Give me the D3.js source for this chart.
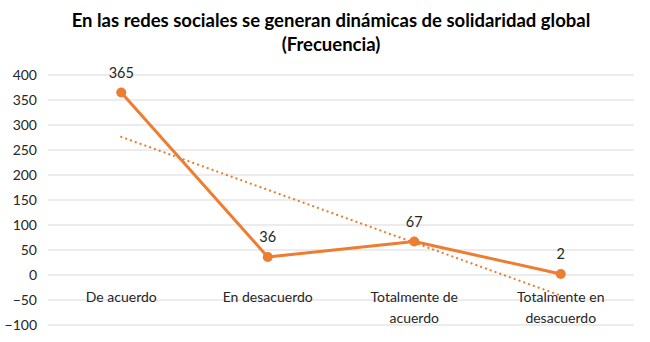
<!DOCTYPE html>
<html>
<head>
<meta charset="utf-8">
<style>
  body { margin: 0; background: #fff; }
  text { font-family: Lato, "Open Sans", sans-serif; }
  .grid line { stroke: #d9d9d9; stroke-width: 1px; }
</style>
</head>
<body>
<svg id="chart" width="650" height="342"></svg>
<script src="https://d3js.org/d3.v7.min.js"></script>
<script>
var categories = ["De acuerdo", "En desacuerdo", "Totalmente de acuerdo", "Totalmente en desacuerdo"];
var catLines = [["De acuerdo"], ["En desacuerdo"], ["Totalmente de", "acuerdo"], ["Totalmente en", "desacuerdo"]];
var values = [365, 36, 67, 2];
var yTicks = [-100, -50, 0, 50, 100, 150, 200, 250, 300, 350, 400];
var titleLines = ["En las redes sociales se generan dinámicas de solidaridad global", "(Frecuencia)"];

var svg = d3.select("#chart");
var orange = "#ed7d31";

var x = d3.scaleBand().domain(categories).range([48, 634]);
var y = d3.scaleLinear().domain([-100, 400]).range([325, 75]);

// title
svg.append("g").selectAll("text")
  .data(titleLines)
  .enter().append("text")
  .attr("x", 331)
  .attr("y", (d, i) => 27 + i * 24)
  .attr("text-anchor", "middle")
  .attr("font-size", "18.5px")
  .attr("font-weight", "bold")
  .attr("fill", "#000")
  .text(d => d);

// gridlines
svg.append("g").attr("class", "grid")
  .selectAll("line")
  .data(yTicks)
  .enter().append("line")
  .attr("x1", 48).attr("x2", 634)
  .attr("y1", d => y(d)).attr("y2", d => y(d));

// y axis labels
var yAxis = d3.axisLeft(y).tickValues(yTicks).tickSize(0).tickPadding(0);
var ya = svg.append("g").attr("transform", "translate(37,0)").call(yAxis);
ya.select(".domain").remove();
ya.selectAll("text")
  .attr("font-size", "14px")
  .attr("font-family", "Lato, 'Open Sans', sans-serif")
  .attr("fill", "#262626");

// category labels
var cat = svg.append("g").selectAll("text")
  .data(catLines)
  .enter().append("text")
  .attr("x", (d, i) => x(categories[i]) + x.bandwidth() / 2)
  .attr("y", 302)
  .attr("text-anchor", "middle")
  .attr("font-size", "14px")
  .attr("fill", "#262626");
cat.selectAll("tspan")
  .data(d => d)
  .enter().append("tspan")
  .attr("x", function () { return d3.select(this.parentNode).attr("x"); })
  .attr("dy", (d, i) => i === 0 ? 0 : 21)
  .text(d => d);

var cx = (d, i) => x(categories[i]) + x.bandwidth() / 2;

// linear trendline
var n = values.length;
var mx = d3.mean(values, (d, i) => i + 1);
var my = d3.mean(values);
var slope = d3.sum(values, (d, i) => (i + 1 - mx) * (d - my)) / d3.sum(values, (d, i) => (i + 1 - mx) * (i + 1 - mx));
var icpt = my - slope * mx;
svg.append("line")
  .attr("x1", cx(null, 0)).attr("y1", y(icpt + slope * 1))
  .attr("x2", cx(null, n - 1)).attr("y2", y(icpt + slope * n))
  .attr("stroke", orange)
  .attr("stroke-width", 2.2)
  .attr("stroke-linecap", "round")
  .attr("stroke-dasharray", "0.1 5");

// line
var line = d3.line().x(cx).y(d => y(d));
svg.append("path")
  .datum(values)
  .attr("d", line)
  .attr("fill", "none")
  .attr("stroke", orange)
  .attr("stroke-width", 3)
  .attr("stroke-linejoin", "round");

svg.append("g").selectAll("circle")
  .data(values)
  .enter().append("circle")
  .attr("cx", cx)
  .attr("cy", d => y(d))
  .attr("r", 5)
  .attr("fill", orange);

// data labels
svg.append("g").selectAll("text")
  .data(values)
  .enter().append("text")
  .attr("x", cx)
  .attr("y", d => y(d) - 15)
  .attr("text-anchor", "middle")
  .attr("font-size", "14.5px")
  .attr("fill", "#262626")
  .text(d => d);
</script>
</body>
</html>
